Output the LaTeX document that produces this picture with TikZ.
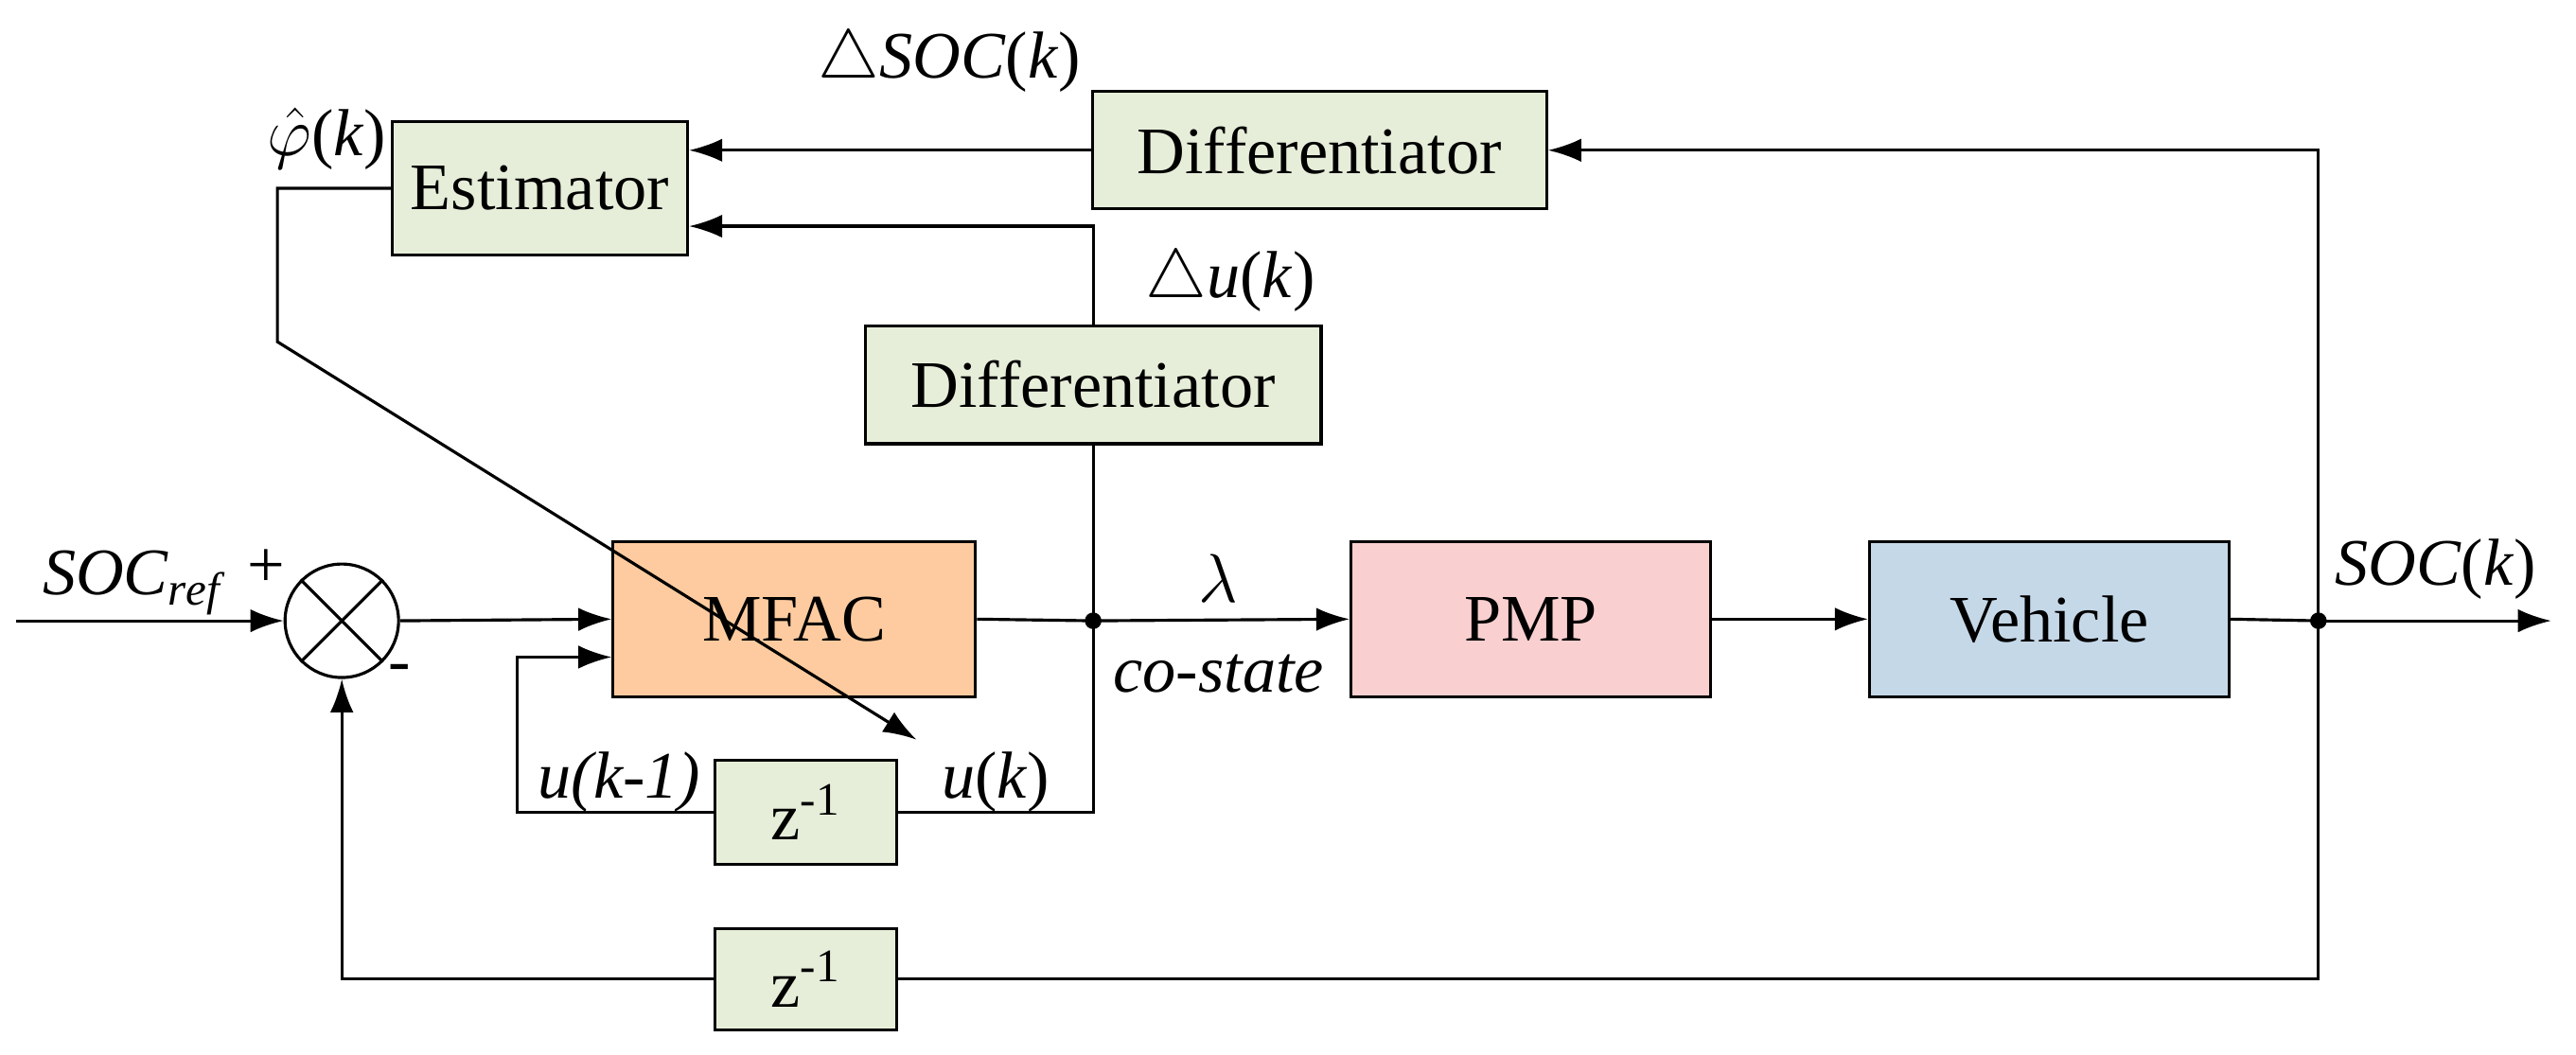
\documentclass[tikz,border=0pt]{standalone}
\usepackage{fontspec}
\setmainfont{Liberation Serif}
\usetikzlibrary{arrows.meta}
\definecolor{gbox}{HTML}{E6EED9}
\definecolor{obox}{HTML}{FDCB9F}
\definecolor{pbox}{HTML}{F9CFCF}
\definecolor{bbox}{HTML}{C5D8E8}
\begin{document}
\begin{tikzpicture}[x=0.01745cm,y=-0.01745cm,
  blk/.style={draw,line width=0.9pt,inner sep=0pt,font=\fontsize{20}{23}\selectfont},
  lbl/.style={font=\fontsize{20}{23}\selectfont\itshape,inner sep=1pt},
  ln/.style={line width=0.9pt},
  ar/.style={ln,-{Latex[length=10pt,width=7pt]}},
  dot/.style={circle,fill,inner sep=0pt,minimum size=5pt}]
\useasboundingbox (0,0) rectangle (1560,639);
\node[blk,fill=gbox,minimum width=3.12cm,minimum height=1.41cm] (est) at (327,114) {Estimator};
\node[blk,fill=gbox,minimum width=4.80cm,minimum height=1.24cm] (dt) at (799,91) {Differentiator};
\node[blk,fill=gbox,minimum width=4.82cm,minimum height=1.25cm] (dm) at (662,233) {Differentiator};
\node[blk,fill=obox,minimum width=3.83cm,minimum height=1.64cm] (mfac) at (481,375) {MFAC};
\node[blk,fill=pbox,minimum width=3.80cm,minimum height=1.64cm] (pmp) at (927,375) {PMP};
\node[blk,fill=bbox,minimum width=3.80cm,minimum height=1.64cm] (veh) at (1241,375) {Vehicle};
\node[blk,fill=gbox,minimum width=1.92cm,minimum height=1.10cm] (z1) at (488,492) {z\textsuperscript{-1}};
\node[blk,fill=gbox,minimum width=1.92cm,minimum height=1.07cm] (z2) at (488,593) {z\textsuperscript{-1}};
\node[draw,line width=0.9pt,circle,minimum size=1.2cm,inner sep=0pt] (sum) at (207,376) {};
\draw[ln] (sum.north west) -- (sum.south east) (sum.north east) -- (sum.south west);
\coordinate (in) at (10,376);
\coordinate (j1) at (662,376);
\coordinate (j2) at (1404,376);
\coordinate (out) at (1545,376);
\node[dot] at (j1) {};
\node[dot] at (j2) {};
% main path
\draw[ar] (in) -- (sum.west);
\draw[ar] (sum.east) -- (mfac.west);
\draw[ln] (mfac.east) -- (j1);
\draw[ar] (j1) -- (pmp.west);
\draw[ar] (pmp.east) -- (veh.west);
\draw[ln] (veh.east) -- (j2);
\draw[ar] (j2) -- (out);
% feedbacks
\draw[ar] (j2) |- (dt.east);
\draw[ln] (j2) |- (z2.east);
\draw[ar] (z2.west) -| (sum.south);
\draw[ar] (dt.west) -- (est.east |- dt.west);
\draw[ln] (j1) -- (dm.south);
\draw[ar] (dm.north) |- (est.east |- 0,137);
\draw[ln] (j1) |- (z1.east);
\draw[ar] (z1.west) -| (313,398) -- (mfac.west |- 0,398);
\draw[ar] (est.west) -| (168,207) -- (555,448);
% labels
\node[lbl] at (80,353) {SOC$_{\mathit{ref}}$};
\node[lbl,font=\fontsize{20}{23}\selectfont] at (161,344) {+};
\node[lbl,font=\fontsize{20}{23}\selectfont] at (242,408) {-};
\node[lbl] at (738,350) {$\lambda$};
\node[lbl] at (738,408) {co-state};
\node[lbl] at (1475,345) {SOC\textup{(}k\textup{)}};
\node[lbl] at (575,37) {$\triangle$SOC\textup{(}k\textup{)}};
\node[lbl] at (745,170) {$\triangle$u\textup{(}k\textup{)}};
\node[lbl] at (198,84) {$\hat{\varphi}$\textup{(}k\textup{)}};
\node[lbl] at (375,474) {u(k-1)};
\node[lbl] at (603,474) {u\textup{(}k\textup{)}};
\end{tikzpicture}
\end{document}
